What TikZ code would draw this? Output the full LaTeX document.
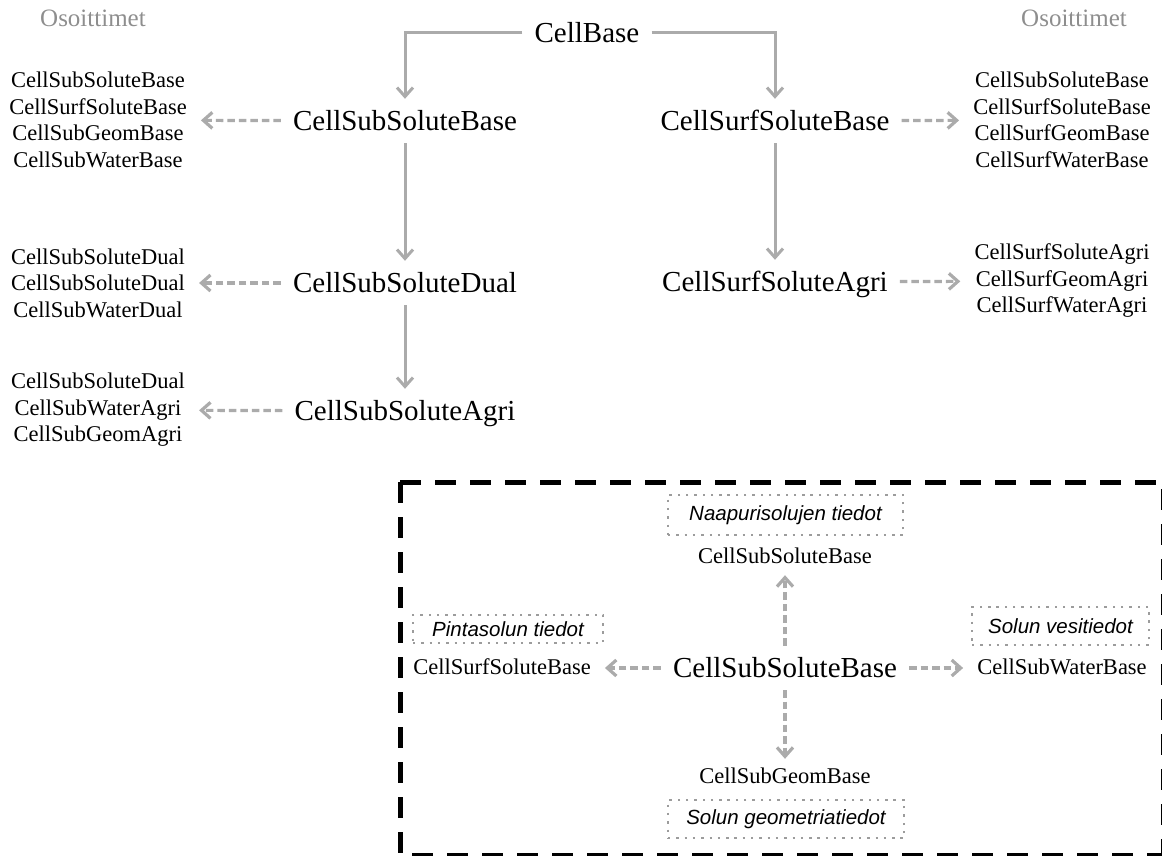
\documentclass[tikz,border=0pt]{standalone}
\usepackage{fontspec}
\setmainfont{Liberation Serif}
\newfontfamily\tagfont{Liberation Sans}
\usepackage{tikz}
\usetikzlibrary{positioning,arrows.meta}
\definecolor{linkgray}{HTML}{ABABAB}
\definecolor{dotgray}{HTML}{9C9C9C}
\definecolor{headgray}{HTML}{8E8E8E}
\def\BigSize{\fontsize{29}{34}\selectfont}
\def\SmallSize{\fontsize{22.5}{26.5}\selectfont}
\def\TagSize{\fontsize{20.5}{24}\selectfont}

\begin{document}
\begin{tikzpicture}[x=1pt,y=-1pt,
	cls/.style={font=\BigSize,inner xsep=12pt,inner ysep=6.5pt,text height=25pt,text depth=6pt},
	ptr/.style={font=\SmallSize,align=center,inner xsep=14pt,inner ysep=7.5pt},
	one/.style={ptr,text height=18pt,text depth=5pt,inner ysep=6.5pt},
	head/.style={font=\fontsize{25}{30}\selectfont,text=headgray},
	inherit/.style={draw=linkgray,line width=3pt,-{Straight Barb[length=9pt,width=16pt]}},
	link/.style={inherit,line width=3.2pt,dash pattern=on 7.5pt off 4pt},
	tagbox/.style={draw=dotgray,line width=2.4pt,dash pattern=on 2.4pt off 5.9pt,
		font=\tagfont\itshape\TagSize,inner sep=0pt},
	frame/.style={draw=black,line width=5pt,dash pattern=on 21pt off 14pt}]
	\useasboundingbox (0,0) rectangle (1162,856);
	% hierarkia
	\node[head] (hl) at (93,18) {Osoittimet};
	\node[head] (hr) at (1074,18) {Osoittimet};
	\node[cls] (cb) at (587,33) {CellBase};
	\node[cls] (ssb) at (405,121) {CellSubSoluteBase};
	\node[cls] (ssd) at (405,283) {CellSubSoluteDual};
	\node[cls] (ssa) at (405,411) {CellSubSoluteAgri};
	\node[cls] (sfb) at (775,121) {CellSurfSoluteBase};
	\node[cls] (sfa) at (775,282) {CellSurfSoluteAgri};
	\node[ptr] (lb) at (98,120) {CellSubSoluteBase\\CellSurfSoluteBase\\CellSubGeomBase\\CellSubWaterBase};
	\node[ptr] (ld) at (98,283) {CellSubSoluteDual\\CellSubSoluteDual\\CellSubWaterDual};
	\node[ptr] (la) at (98,410) {CellSubSoluteDual\\CellSubWaterAgri\\CellSubGeomAgri};
	\node[ptr] (rb) at (1062,120) {CellSubSoluteBase\\CellSurfSoluteBase\\CellSurfGeomBase\\CellSurfWaterBase};
	\node[ptr] (ra) at (1062,281) {CellSurfSoluteAgri\\CellSurfGeomAgri\\CellSurfWaterAgri};
	\draw[inherit] (cb.west) -| (ssb.north);
	\draw[inherit] (cb.east) -| (sfb.north);
	\draw[inherit] (ssb) -- (ssd);
	\draw[inherit] (ssd) -- (ssa);
	\draw[inherit] (sfb) -- (sfa);
	\draw[link] (ssb) -- (lb);
	\draw[link] (ssd) -- (ld);
	\draw[link] (ssa) -- (la);
	\draw[link] (sfb) -- (rb);
	\draw[link] (sfa) -- (ra);
	% esimerkki
	\coordinate (fa) at (400,482);
	\coordinate (fb) at (1163,855);
	\draw[frame] (fa) -- (fa -| fb) -- (fb);
	\draw[frame] (fa) -- (fa |- fb) -- (fb);
	\node[cls] (c) at (785,668) {CellSubSoluteBase};
	\node[one] (n) at (785,557) {CellSubSoluteBase};
	\node[one] (g) at (785,777) {CellSubGeomBase};
	\node[one] (s) at (502,668) {CellSurfSoluteBase};
	\node[one] (w) at (1062,668) {CellSubWaterBase};
	\node[tagbox,minimum width=235pt,minimum height=40pt] (nt) at (785.5,515) {Naapurisolujen tiedot};
	\node[tagbox,minimum width=190pt,minimum height=28pt] (st) at (508,629) {Pintasolun tiedot};
	\node[tagbox,minimum width=177pt,minimum height=38pt] (wt) at (1060.5,626) {Solun vesitiedot};
	\node[tagbox,minimum width=236pt,minimum height=38pt] (gt) at (786,819) {Solun geometriatiedot};
	\draw[link] (c) -- (n);
	\draw[link] (c) -- (g);
	\draw[link] (c) -- (s);
	\draw[link] (c) -- (w);
\end{tikzpicture}
\end{document}
